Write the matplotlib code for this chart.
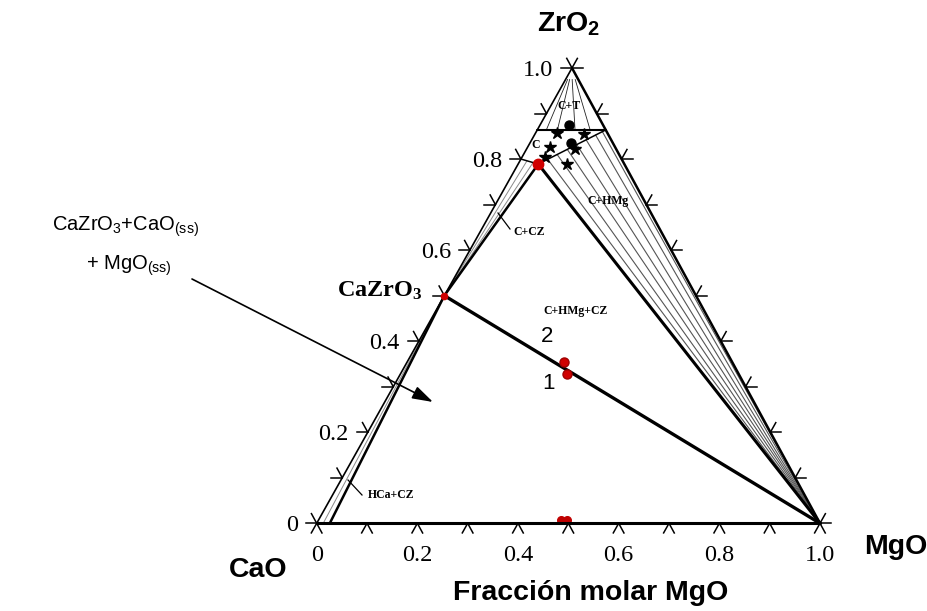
import numpy as np
import matplotlib.pyplot as plt
from matplotlib import rcParams

rcParams['mathtext.default'] = 'regular'
rcParams['font.family'] = 'Liberation Sans'

# compositions as (MgO, ZrO2) molar fractions; CaO is the balance
cazro3 = (0.0, 0.5)
c_corner = (0.040, 0.789)       # C + CZ + HMg invariant point
c_edge = (0.0, 0.80)
c_right = (0.136, 0.864)
c_left = (0.0, 0.864)
hca_edge = (0.026, 0.0)
mgo_corner = (1.0, 0.0)
zro2_corner = (0.0, 1.0)
cao_corner = (0.0, 0.0)

sample_labels = ['1', '2']
sample_mgo = [0.332, 0.312]
sample_zro2 = [0.327, 0.355]

side_mgo = [0.482, 0.494]
side_zro2 = [0.008, 0.008]

star_mgo = [0.043, 0.097, 0.044, 0.097, 0.046, 0.098]
star_zro2 = [0.857, 0.855, 0.827, 0.821, 0.804, 0.789]
dot_mgo = [0.058, 0.081]
dot_zro2 = [0.875, 0.836]

# tie lines
cz_tie_frac = [0.35, 0.7]                              # c_edge -> c_corner, to CaZrO3
hca_tie_mgo = [0.013]                                  # on CaO-MgO side, to CaZrO3
hmg_tie_frac = [0.14, 0.28, 0.43, 0.57, 0.71, 0.85, 0.95]  # c_corner -> c_right, to MgO
t_tie_mgo = [0.018, 0.040, 0.075, 0.105]               # on the C / C+T boundary
t_tie_top_mgo = [0.004, 0.008, 0.013, 0.019]
t_tie_top_zro2 = 0.975

ticks = np.round(np.arange(0, 1.01, 0.1), 1)
axis_vals = [0.0, 0.2, 0.4, 0.6, 0.8, 1.0]
axis_labels = ['0', '0.2', '0.4', '0.6', '0.8', '1.0']

# page layout in pixels
W, H = 927, 611
x0, y0, side = 316.7, 523.3, 503.3      # CaO corner and CaO-MgO side length
apex_x, apex_y = 572.0, 68.0
hz = y0 - apex_y
skew = (apex_x - x0) / side

fig = plt.figure(figsize=(W / 100, H / 100), dpi=100)
ax = fig.add_axes([0, 0, 1, 1])
ax.set_xlim(-x0 / side, (W - x0) / side)
ax.set_ylim((y0 - H) / hz, y0 / hz)
ax.axis('off')


def tern(m, z):
    return m + skew * z, z


def pix(x, y):
    return (x - x0) / side, (y0 - y) / hz


def seg(p, q, **kw):
    (xa, ya), (xb, yb) = tern(*p), tern(*q)
    ax.plot([xa, xb], [ya, yb], solid_capstyle='round', **kw)


def along(p, q, f):
    return p[0] + f * (q[0] - p[0]), p[1] + f * (q[1] - p[1])


# tie lines
for f in cz_tie_frac:
    seg(cazro3, along(c_edge, c_corner, f), color='#8a8a8a', lw=0.7)
for m in hca_tie_mgo:
    seg(cazro3, (m, 0.0), color='#8a8a8a', lw=0.7)
for f in hmg_tie_frac:
    seg(along(c_corner, c_right, f), mgo_corner, color='#555555', lw=0.8)
for mb, mt in zip(t_tie_mgo, t_tie_top_mgo):
    seg((mb, c_right[1]), (mt, t_tie_top_zro2), color='#222222', lw=0.6)

# triangle sides
seg(cao_corner, mgo_corner, color='k', lw=2.2)
seg(mgo_corner, zro2_corner, color='k', lw=1.8)
seg(cao_corner, zro2_corner, color='k', lw=1.2)

# phase boundaries
seg(hca_edge, cazro3, color='k', lw=1.8)
seg(cazro3, c_corner, color='k', lw=1.8)
seg(c_corner, mgo_corner, color='k', lw=2.2)
seg(cazro3, mgo_corner, color='k', lw=2.4)
seg(c_left, c_right, color='k', lw=1.5)
seg(c_corner, c_right, color='k', lw=1.1)
seg(c_edge, c_corner, color='k', lw=1.1)

# ticks: two short legs parallel to the other two sides
L = 11


def leg(vx, vy):
    n = np.hypot(vx * side, vy * hz)
    return vx * L / n, vy * L / n


up_left = leg(skew - 1, 1)
up_right = leg(skew, 1)
to_left = leg(-1, 0)
to_right = leg(1, 0)
down_left = (-up_right[0], -up_right[1])
down_right = (-up_left[0], -up_left[1])

for t in ticks:
    for base, legs in [((t, 0.0), (down_left, down_right)),
                       ((0.0, t), (to_left, up_left)),
                       ((1 - t, t), (to_right, up_right))]:
        bx, by = tern(*base)
        for dx, dy in legs:
            ax.plot([bx, bx + dx], [by, by + dy], color='k', lw=1.1)

# tick labels
serif = 'Liberation Serif'
for v, s in zip(axis_vals, axis_labels):
    bx, by = tern(v, 0.0)
    ax.text(bx, by - 38 / hz, s, ha='center', va='baseline',
            fontsize=17.5, family=serif)
    lx, ly = tern(0.0, v)
    ax.text(lx - 19 / side, ly - 8 / hz, s, ha='right', va='baseline',
            fontsize=17.5, family=serif)
cx, cy = tern(*cazro3)
ax.text(cx - 22 / side, cy - 1 / hz, r'CaZrO$_3$', ha='right', va='baseline',
        fontsize=17.5, family=serif, weight='bold')

# markers
sx, sy = tern(np.array(star_mgo), np.array(star_zro2))
ax.plot(sx, sy, '*', color='k', ms=9, zorder=5)
dx_, dy_ = tern(np.array(dot_mgo), np.array(dot_zro2))
ax.plot(dx_, dy_, 'o', color='k', ms=6.5, zorder=5)

red = '#d00000'
bx_, by_ = tern(np.array(side_mgo), np.array(side_zro2))
ax.plot(bx_, by_, 'o', color='#c00000', ms=5.5, zorder=1)
ax.plot(*tern(*cazro3), 'o', color=red, ms=4.5, zorder=6)
ax.plot(*tern(*c_corner), 'o', color=red, ms=7.5, zorder=6)
px_, py_ = tern(np.array(sample_mgo), np.array(sample_zro2))
ax.plot(px_, py_, 'o', color=red, mec='#a00000', ms=6.5, zorder=6)
for lab, x, y, off in zip(sample_labels, px_, py_, [(-19, -9), (-17, 25)]):
    ax.annotate(lab, (x, y), xytext=off, textcoords='offset pixels',
                ha='center', va='center', fontsize=16)

# phase field labels
small = dict(family=serif, weight='bold', fontsize=8.5, ha='center', va='center')
ax.text(*pix(569, 106), 'C+T', **small)
ax.text(*pix(536, 145), 'C', **small)
ax.text(*pix(608, 201), 'C+HMg', **small)
ax.text(*pix(529, 232), 'C+CZ', **small)
ax.text(*pix(575, 311), 'C+HMg+CZ', **small)
ax.text(*pix(391, 495), 'HCa+CZ', **small)
for (xa, ya), (xb, yb) in [((498, 213), (510, 229)), ((348, 480), (362, 495))]:
    (ua, va), (ub, vb) = pix(xa, ya), pix(xb, yb)
    ax.plot([ua, ub], [va, vb], color='k', lw=0.9)

# note with arrow into the three-phase field
ax.text(*pix(125, 231), r'CaZrO$_3$+CaO$_{(ss)}$', ha='center', va='baseline',
        fontsize=14.5)
ax.text(*pix(129, 270), r'+ MgO$_{(ss)}$', ha='center', va='baseline',
        fontsize=14.5)
ax.annotate('', xy=pix(433, 402), xytext=pix(192, 279),
            arrowprops=dict(arrowstyle='-|>,head_length=0.7,head_width=0.22',
                            color='k', lw=1.2, shrinkA=0, shrinkB=0,
                            mutation_scale=18))

# component names and axis title
big = dict(weight='bold', fontsize=20.5, ha='center', va='baseline')
fig.text(569 / W, 1 - 32 / H, r'ZrO$_2$', **big)
fig.text(258 / W, 1 - 577 / H, 'CaO', **big)
fig.text(896 / W, 1 - 554 / H, 'MgO', **big)
fig.text(591 / W, 1 - 600 / H, 'Fracción molar MgO', **big)

fig.savefig('out.png', dpi=100)
